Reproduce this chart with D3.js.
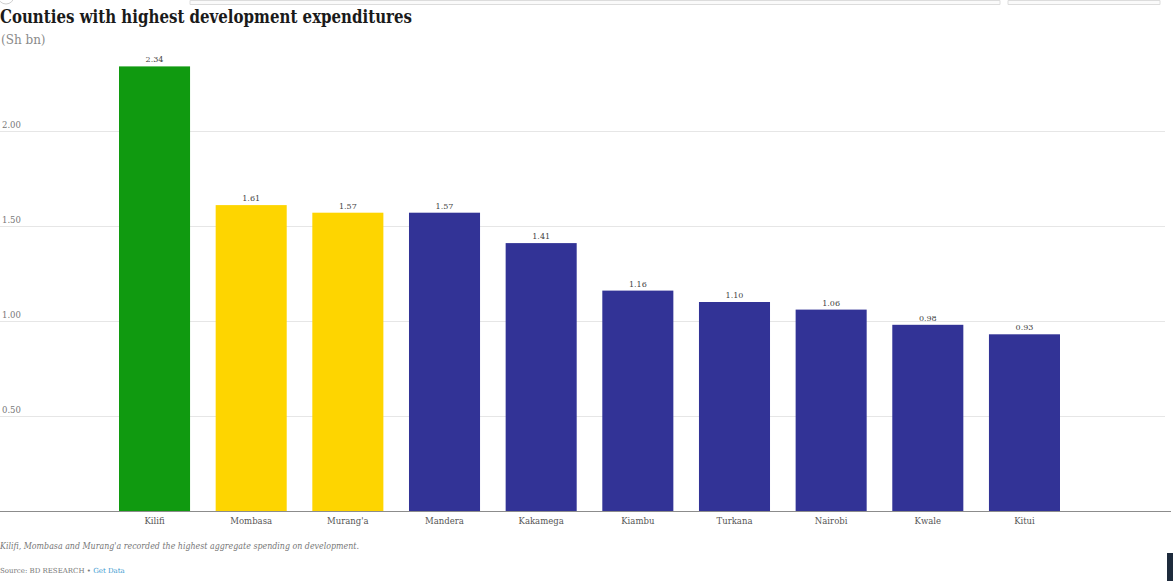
<!DOCTYPE html>
<html>
<head>
<meta charset="utf-8">
<script src="https://cdnjs.cloudflare.com/ajax/libs/d3/7.8.5/d3.min.js"></script>
<style>
    body { margin: 0; background: #fff; }
    svg { display: block; }
    text { font-family: Georgia, "DejaVu Serif", "Liberation Serif", serif; }
</style>
</head>
<body>
<div id="container"></div>
<script>

var counties = ["Kilifi", "Mombasa", "Murang'a", "Mandera", "Kakamega", "Kiambu", "Turkana", "Nairobi", "Kwale", "Kitui"];

var spending = [2.34, 1.61, 1.57, 1.57, 1.41, 1.16, 1.10, 1.06, 0.98, 0.93];

var barColors = ["#109a10", "#fed500", "#fed500", "#323396", "#323396", "#323396", "#323396", "#323396", "#323396", "#323396"];

var yTicks = [0.5, 1.0, 1.5, 2.0];

var W = 1173, H = 581;

var baseY = 511;

var svg = d3.select("#container")
    .append("svg")
    .attr("width", W)
    .attr("height", H);

var x = d3.scaleBand()
    .domain(counties)
    .range([106.2, 1072.8])
    .paddingInner(0.265)
    .paddingOuter(0.1325);

var y = d3.scaleLinear()
    .domain([0, 2])
    .range([baseY, 131]);

//  faint browser chrome at the top edge

svg.append("path")
    .attr("d", "M190,0.5 H1000 V4.5 H190 Z M1008,0.5 H1160 V4.5 H1008 Z")
    .attr("fill", "#fafafa")
    .attr("stroke", "#dcdcdc");

svg.append("circle")
    .attr("cx", 6)
    .attr("cy", -4)
    .attr("r", 8)
    .attr("fill", "none")
    .attr("stroke", "#cfcfcf");

//  gridlines + tick labels

var grid = svg.append("g").attr("class", "grid");

grid.selectAll("line")
    .data(yTicks)
    .enter()
    .append("line")
    .attr("x1", 0)
    .attr("x2", 1165)
    .attr("y1", function(d){ return Math.round(y(d)) + 0.5; })
    .attr("y2", function(d){ return Math.round(y(d)) + 0.5; })
    .attr("stroke", "#e6e6e6")
    .attr("stroke-width", 1);

grid.selectAll("text")
    .data(yTicks)
    .enter()
    .append("text")
    .attr("x", 2)
    .attr("y", function(d){ return y(d) - 3; })
    .attr("font-size", 8.5)
    .attr("fill", "#777")
    .text(function(d){ return d3.format(".2f")(d); });

//  bars

svg.selectAll(".bar")
    .data(counties)
    .enter()
    .append("rect")
    .attr("class", "bar")
    .attr("x", function(d){ return x(d); })
    .attr("y", function(d, i){ return y(spending[i]); })
    .attr("width", x.bandwidth())
    .attr("height", function(d, i){ return baseY - y(spending[i]); })
    .attr("fill", function(d, i){ return barColors[i]; });

svg.selectAll(".val")
    .data(counties)
    .enter()
    .append("text")
    .attr("class", "val")
    .attr("x", function(d){ return x(d) + x.bandwidth() / 2; })
    .attr("y", function(d, i){ return y(spending[i]) - 4; })
    .attr("text-anchor", "middle")
    .attr("font-size", 8)
    .attr("fill", "#444")
    .text(function(d, i){ return d3.format(".2f")(spending[i]); });

//  x axis

svg.append("g")
    .attr("class", "axis-bottom")
    .attr("transform", "translate(0," + baseY + ")")
    .call(d3.axisBottom(x).tickSize(0).tickPadding(7))
    .call(function(g){
        g.select(".domain").remove();
        g.selectAll("text")
            .attr("font-size", 8.5)
            .attr("fill", "#555")
            .style("font-family", "Georgia, 'DejaVu Serif', serif");
    });

svg.append("line")
    .attr("x1", 0)
    .attr("x2", 1171)
    .attr("y1", baseY + 0.5)
    .attr("y2", baseY + 0.5)
    .attr("stroke", "#8c8c8c")
    .attr("stroke-width", 1);

//  titles

svg.append("text")
    .attr("x", 0)
    .attr("y", 23)
    .attr("font-size", 18)
    .attr("font-weight", "bold")
    .attr("fill", "#1a1a1a")
    .attr("textLength", 412)
    .attr("lengthAdjust", "spacingAndGlyphs")
    .text("Counties with highest development expenditures");

svg.append("text")
    .attr("x", 1)
    .attr("y", 44)
    .attr("font-size", 12)
    .attr("fill", "#8a8a8a")
    .text("(Sh bn)");

//  footer

svg.append("text")
    .attr("x", 0)
    .attr("y", 549)
    .attr("font-size", 8.5)
    .attr("font-style", "italic")
    .attr("fill", "#777")
    .attr("textLength", 359)
    .attr("lengthAdjust", "spacingAndGlyphs")
    .text("Kilifi, Mombasa and Murang'a recorded the highest aggregate spending on development.");

var src = svg.append("text")
    .attr("x", 0)
    .attr("y", 573)
    .attr("font-size", 7)
    .attr("fill", "#777");

src.append("tspan").text("Source: BD RESEARCH \u2022 ");
src.append("tspan").attr("fill", "#3a9ad0").text("Get Data");

//  dark edge at bottom right of the screenshot

svg.append("rect")
    .attr("x", 1167)
    .attr("y", 553)
    .attr("width", 6)
    .attr("height", 28)
    .attr("fill", "#1e2b3c");

</script>
</body>
</html>
